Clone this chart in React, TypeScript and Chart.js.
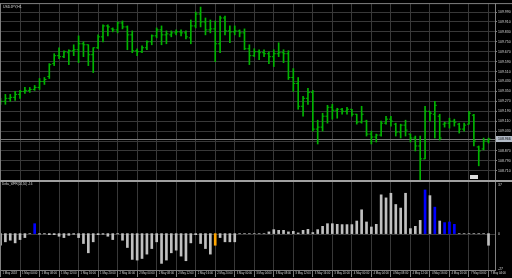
import React, { useEffect, useRef } from 'react';
import { Chart, registerables } from 'chart.js';

Chart.register(...registerables);

const SYMBOL_TITLE = 'USDJPY,H1';
const IND_TITLE = 'Delta_WPR(24,50) -16';

const OPEN = [109.278, 109.270, 109.294, 109.302, 109.326, 109.350, 109.358, 109.366, 109.382, 109.430,
  109.470, 109.574, 109.638, 109.630, 109.662, 109.678, 109.686, 109.734, 109.726, 109.646,
  109.702, 109.790, 109.878, 109.854, 109.846, 109.902, 109.870, 109.806, 109.678, 109.670,
  109.702, 109.750, 109.798, 109.846, 109.806, 109.806, 109.822, 109.830, 109.822, 109.782,
  109.878, 109.974, 109.910, 109.846, 109.854, 109.734, 109.942, 109.838, 109.830, 109.838,
  109.822, 109.694, 109.638, 109.670, 109.662, 109.654, 109.630, 109.654, 109.662, 109.654,
  109.462, 109.414, 109.230, 109.294, 109.342, 109.046, 109.062, 109.150, 109.222, 109.198,
  109.206, 109.190, 109.206, 109.166, 109.102, 109.110, 109.006, 108.982, 108.998, 109.094,
  109.126, 109.086, 109.022, 109.078, 109.006, 108.974, 108.910, 108.806, 109.190, 109.166,
  109.150, 109.086, 109.094, 109.110, 109.086, 109.046, 109.086, 109.158, 108.902, 108.886,
  108.950];
const HIGH = [109.294, 109.326, 109.326, 109.350, 109.358, 109.382, 109.382, 109.398, 109.454, 109.462,
  109.574, 109.654, 109.702, 109.678, 109.686, 109.726, 109.798, 109.750, 109.726, 109.702,
  109.806, 109.886, 109.886, 109.862, 109.910, 109.918, 109.878, 109.838, 109.694, 109.718,
  109.758, 109.806, 109.862, 109.878, 109.838, 109.838, 109.846, 109.846, 109.838, 109.926,
  109.990, 110.030, 109.942, 109.926, 109.918, 109.958, 109.958, 109.878, 109.878, 109.846,
  109.854, 109.726, 109.694, 109.686, 109.686, 109.670, 109.686, 109.742, 109.686, 109.678,
  109.534, 109.462, 109.310, 109.374, 109.358, 109.118, 109.174, 109.238, 109.246, 109.214,
  109.214, 109.222, 109.206, 109.166, 109.230, 109.118, 109.030, 109.006, 109.110, 109.150,
  109.150, 109.094, 109.086, 109.118, 109.006, 108.990, 108.990, 109.230, 109.190, 109.270,
  109.166, 109.102, 109.134, 109.126, 109.094, 109.094, 109.190, 109.166, 108.910, 108.974,
  108.974];
const LOW = [109.246, 109.246, 109.270, 109.278, 109.294, 109.334, 109.342, 109.358, 109.366, 109.406,
  109.454, 109.558, 109.614, 109.622, 109.566, 109.638, 109.582, 109.630, 109.558, 109.502,
  109.694, 109.750, 109.798, 109.830, 109.822, 109.854, 109.686, 109.662, 109.638, 109.662,
  109.686, 109.726, 109.782, 109.726, 109.734, 109.790, 109.806, 109.798, 109.774, 109.734,
  109.862, 109.870, 109.806, 109.822, 109.590, 109.662, 109.806, 109.742, 109.806, 109.790,
  109.686, 109.566, 109.630, 109.606, 109.630, 109.574, 109.550, 109.630, 109.582, 109.446,
  109.350, 109.206, 109.150, 109.246, 109.030, 108.926, 109.030, 109.094, 109.126, 109.134,
  109.166, 109.166, 109.150, 109.086, 109.094, 108.990, 108.926, 108.942, 108.990, 109.086,
  109.070, 108.990, 108.974, 108.990, 108.942, 108.870, 108.638, 108.806, 109.110, 108.974,
  108.958, 109.062, 109.054, 109.070, 109.014, 109.030, 109.086, 108.910, 108.750, 108.878,
  108.934];
const CLOSE = [109.270, 109.294, 109.302, 109.326, 109.350, 109.358, 109.366, 109.382, 109.430, 109.446,
  109.566, 109.638, 109.630, 109.670, 109.678, 109.686, 109.734, 109.726, 109.646, 109.702,
  109.790, 109.878, 109.870, 109.846, 109.902, 109.870, 109.806, 109.678, 109.670, 109.702,
  109.750, 109.798, 109.846, 109.806, 109.814, 109.822, 109.830, 109.822, 109.790, 109.878,
  109.974, 109.910, 109.846, 109.854, 109.734, 109.942, 109.838, 109.830, 109.838, 109.822,
  109.694, 109.638, 109.670, 109.662, 109.654, 109.630, 109.654, 109.662, 109.654, 109.462,
  109.414, 109.230, 109.294, 109.342, 109.046, 109.062, 109.150, 109.222, 109.198, 109.206,
  109.190, 109.206, 109.166, 109.102, 109.166, 109.006, 108.982, 108.998, 109.094, 109.126,
  109.110, 109.022, 109.078, 109.038, 108.974, 108.910, 108.806, 109.190, 109.174, 109.238,
  108.974, 109.094, 109.110, 109.102, 109.046, 109.078, 109.174, 108.950, 108.870, 108.950,
  108.966];

const DELTA = [-8.8, -6.2, -5.0, -7.0, -4.5, -3.0, 0, 7.5, -0.4, -0.2,
  -0.8, -0.8, -2.0, -3.0, -1.3, -0.5, -3.0, -7.5, -14.5, -6.2,
  -0.8, -0.5, -2.0, -4.5, -0.2, -5.0, -10.5, -19.5, -20.0, -18.8,
  -15.5, -11.3, -6.2, -22.5, -20.0, -14.5, -12.5, -17.0, -20.5, -7.0,
  -0.8, -7.5, -11.3, -15.5, -8.8, -3.0, -6.2, -6.2, -6.2, 0,
  0, 0, 0, 0, 0, 1.3, 3.0, 2.5, 2.5, 1.3,
  1.7, 0.5, 2.5, 3.2, 0.8, 3.0, 5.5, 7.5, 7.5, 7.0,
  6.8, 6.8, 6.8, 9.5, 18.0, 8.8, 5.0, 7.0, 29.3, 27.0,
  30.5, 22.0, 19.3, 30.5, 3.8, 5.5, 10.0, 33.0, 28.7, 20.0,
  9.5, 8.3, 8.8, 7.0, 0, 0, 0, 0, 0, 0,
  -8.8];
const BLUE_BARS = [7, 87, 89, 91, 92, 93];
const ORANGE_BARS = [44];

const Y_TICKS = [109.990, 109.910, 109.830, 109.750, 109.670, 109.590, 109.510, 109.430, 109.350,
  109.270, 109.190, 109.110, 109.030, 108.950, 108.870, 108.790, 108.710];
const X_TICK_BARS = [0, 4, 8, 12, 16, 20, 24, 28, 32, 36, 40, 44, 48, 52, 56, 60, 64, 68, 72, 76, 80, 84, 88, 92, 96, 100];
const X_LABELS = ['1 May 2018', '1 May 04:00', '1 May 08:00', '1 May 12:00', '1 May 16:00', '1 May 20:00',
  '2 May 00:00', '2 May 04:00', '2 May 08:00', '2 May 12:00', '2 May 16:00', '2 May 20:00',
  '3 May 00:00', '3 May 04:00', '3 May 08:00', '3 May 12:00', '3 May 16:00', '3 May 20:00',
  '4 May 00:00', '4 May 04:00', '4 May 08:00', '4 May 12:00', '4 May 16:00', '4 May 20:00',
  '7 May 00:00', '7 May 04:00'];
const IND_LABELS = [37, 0, -27];

// axis ranges (layout)
const PRICE_MIN = 107.91;
const PRICE_MAX = 110.062;
const IND_MIN = -27.5;
const IND_MAX = 174.2;
const X_MIN = -0.102;
const X_MAX = 101.33;
const PANE_SPLIT = 181;

const GREEN = '#00b400';
const SILVER = '#c0c0c0';
const BLUE = '#0000ff';
const ORANGE = '#ffa500';
const GRID = '#383838';
const FRAME = '#808080';
const TEXT = '#d8d8d8';
const FONT = 'Liberation Sans';

const ohlcPlugin = {
  id: 'ohlcTicks',
  beforeDraw(chart: any) {
    const { ctx, width, height } = chart;
    ctx.save();
    ctx.fillStyle = '#000';
    ctx.fillRect(0, 0, width, height);
    ctx.restore();
  },
  beforeDatasetsDraw(chart: any) {
    const { ctx, chartArea, scales } = chart;
    const y = scales.y;
    const y2 = scales.y2;
    ctx.save();
    const zy = Math.round(y2.getPixelForValue(0)) + 0.5;
    ctx.strokeStyle = '#3a3a3a';
    ctx.lineWidth = 1;
    ctx.beginPath();
    ctx.moveTo(chartArea.left, zy);
    ctx.lineTo(chartArea.right, zy);
    ctx.stroke();
    const by = Math.round(y.getPixelForValue(CLOSE[CLOSE.length - 1])) + 0.5;
    ctx.strokeStyle = '#7a7a7a';
    ctx.beginPath();
    ctx.moveTo(chartArea.left, by);
    ctx.lineTo(chartArea.right, by);
    ctx.stroke();
    ctx.restore();
  },
  afterDatasetsDraw(chart: any) {
    const { ctx, chartArea, scales } = chart;
    const x = scales.x;
    const y = scales.y;
    ctx.save();
    ctx.beginPath();
    ctx.rect(chartArea.left, chartArea.top, chartArea.right - chartArea.left, PANE_SPLIT - chartArea.top);
    ctx.clip();
    ctx.strokeStyle = GREEN;
    ctx.lineWidth = 1;
    ctx.beginPath();
    OPEN.forEach((o, i) => {
      const cx = x.getPixelForValue(i);
      const oy = y.getPixelForValue(o);
      const cy = y.getPixelForValue(CLOSE[i]);
      ctx.moveTo(cx - 2, oy);
      ctx.lineTo(cx, oy);
      ctx.moveTo(cx, cy);
      ctx.lineTo(cx + 2, cy);
    });
    ctx.stroke();
    ctx.restore();
  },
  afterDraw(chart: any) {
    const { ctx, chartArea, scales, width } = chart;
    const y = scales.y;
    const y2 = scales.y2;
    ctx.save();
    ctx.strokeStyle = FRAME;
    ctx.lineWidth = 1;
    ctx.beginPath();
    ctx.moveTo(chartArea.left + 0.5, chartArea.top);
    ctx.lineTo(chartArea.left + 0.5, chartArea.bottom);
    ctx.moveTo(chartArea.left, chartArea.top + 0.5);
    ctx.lineTo(width, chartArea.top + 0.5);
    ctx.stroke();
    ctx.fillStyle = '#a0a0a0';
    ctx.fillRect(0, PANE_SPLIT - 1, width, 2);
    const by = y.getPixelForValue(CLOSE[CLOSE.length - 1]);
    ctx.fillStyle = '#b4bcc8';
    ctx.fillRect(chartArea.right + 1, by - 3, width - chartArea.right - 1, 6);
    ctx.fillStyle = '#000';
    ctx.font = `3.5px "${FONT}"`;
    ctx.textBaseline = 'middle';
    ctx.textAlign = 'left';
    ctx.fillText(CLOSE[CLOSE.length - 1].toFixed(3), chartArea.right + 3, by);
    ctx.fillStyle = TEXT;
    IND_LABELS.forEach((v) => {
      const py = Math.min(Math.max(y2.getPixelForValue(v), PANE_SPLIT + 3), chartArea.bottom - 1);
      ctx.fillText(String(v), chartArea.right + 3, py);
    });
    ctx.font = `3.5px "${FONT}"`;
    ctx.fillText(SYMBOL_TITLE, chartArea.left + 3, chartArea.top + 3.5);
    ctx.font = `3px "${FONT}"`;
    ctx.fillText(IND_TITLE, chartArea.left + 2, PANE_SPLIT + 3.5);
    ctx.fillStyle = '#dcdcdc';
    ctx.fillRect(chartArea.right - 25, PANE_SPLIT - 6, 8, 4);
    ctx.restore();
  },
};

export default function App() {
  const ref = useRef<HTMLCanvasElement>(null);
  useEffect(() => {
    document.body.style.margin = '0';
    document.body.style.background = '#000';
    const canvas = ref.current as HTMLCanvasElement;
    const idx = OPEN.map((_, i) => i);
    const chart = new Chart(canvas, {
      type: 'bar',
      data: {
        datasets: [
          {
            label: 'HL',
            data: idx.map((i) => ({ x: i, y: [LOW[i], HIGH[i]] })) as any,
            yAxisID: 'y',
            backgroundColor: GREEN,
            barThickness: 1,
            grouped: false,
            borderWidth: 0,
          } as any,
          {
            label: 'Delta',
            data: idx.map((i) => ({ x: i, y: DELTA[i] })) as any,
            yAxisID: 'y2',
            backgroundColor: (c: any) =>
              BLUE_BARS.includes(c.dataIndex) ? BLUE : ORANGE_BARS.includes(c.dataIndex) ? ORANGE : SILVER,
            barThickness: 2,
            grouped: false,
            borderWidth: 0,
          } as any,
        ],
      },
      options: {
        responsive: false,
        animation: false,
        devicePixelRatio: 1,
        layout: { padding: { top: 1, left: 0, right: 0, bottom: 0 } },
        plugins: { legend: { display: false }, tooltip: { enabled: false }, title: { display: false } },
        scales: {
          x: {
            type: 'linear',
            position: 'bottom',
            min: X_MIN,
            max: X_MAX,
            bounds: 'data',
            offset: false,
            afterBuildTicks: (s: any) => {
              s.ticks = X_TICK_BARS.map((v) => ({ value: v }));
            },
            afterFit: (s: any) => {
              s.height = 8;
            },
            ticks: {
              autoSkip: false,
              maxRotation: 0,
              minRotation: 0,
              align: 'start',
              padding: -5,
              labelOffset: 2,
              color: TEXT,
              font: { family: FONT, size: 2.8 },
              callback: (_v: any, i: number) => X_LABELS[i],
            },
            grid: { color: GRID, lineWidth: 1, offset: false, drawTicks: true, tickLength: 7, tickColor: FRAME },
            border: { display: true, color: FRAME },
          } as any,
          y: {
            type: 'linear',
            position: 'right',
            min: PRICE_MIN,
            max: PRICE_MAX,
            beginAtZero: false,
            bounds: 'data',
            afterBuildTicks: (s: any) => {
              s.ticks = Y_TICKS.map((v) => ({ value: v }));
            },
            afterFit: (s: any) => {
              s.width = 17;
            },
            ticks: {
              color: TEXT,
              padding: 1,
              crossAlign: 'near',
              font: { family: FONT, size: 3.5 },
              callback: (v: any) => Number(v).toFixed(3),
            },
            grid: { color: GRID, lineWidth: 1, tickLength: 2, tickColor: FRAME },
            border: { display: true, color: FRAME },
          } as any,
          y2: {
            type: 'linear',
            display: false,
            min: IND_MIN,
            max: IND_MAX,
            beginAtZero: false,
          } as any,
        },
      },
      plugins: [ohlcPlugin],
    });
    return () => chart.destroy();
  }, []);
  return <canvas ref={ref} width={512} height={278} style={{ display: 'block', width: 512, height: 278 }} />;
}
